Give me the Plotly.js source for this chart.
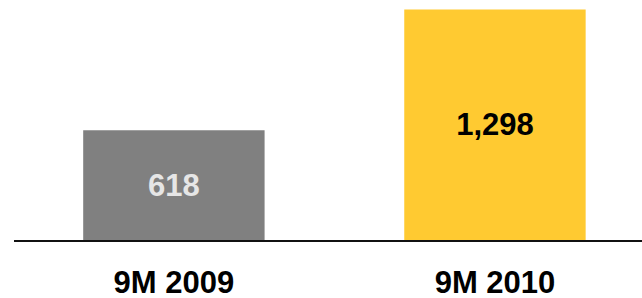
<!DOCTYPE html>
<html>
<head>
<meta charset="utf-8">
<script src="https://cdn.plot.ly/plotly-3.0.1.min.js"></script>
<style>html,body{margin:0;padding:0;background:#fff;}#chart{width:642px;height:298px;}</style>
</head>
<body>
<div id="chart"></div>
<script>
const categories = ['9M 2009', '9M 2010'];
const values = [618, 1298];
const barColors = ['#808080', '#FFCA31'];
const labelColors = ['#E6E6E6', '#000000'];

const trace = {
  type: 'bar',
  x: categories,
  y: values,
  width: 0.565,
  marker: {color: barColors, line: {width: 0}},
  texttemplate: '%{y:,}',
  textposition: 'inside',
  insidetextanchor: 'middle',
  textangle: 0,
  insidetextfont: {family: 'Liberation Sans, Arial, sans-serif', size: 31, color: labelColors, weight: 'bold'},
  hoverinfo: 'none',
  cliponaxis: false
};

const layout = {
  width: 642, height: 298,
  margin: {l: 14, r: 0, t: 0, b: 58, pad: 0},
  paper_bgcolor: '#fff', plot_bgcolor: '#fff',
  showlegend: false,
  xaxis: {
    type: 'category',
    range: [-0.498, 1.458],
    showline: true, linecolor: '#111', linewidth: 2,
    showgrid: false, zeroline: false,
    ticks: '', ticklabelstandoff: 14,
    tickfont: {family: 'Liberation Sans, Arial, sans-serif', size: 31, color: '#000', weight: 'bold'}
  },
  yaxis: {
    range: [0, 1352],
    visible: false,
    showgrid: false, zeroline: false
  }
};

Plotly.newPlot('chart', [trace], layout, {staticPlot: true, displayModeBar: false});
</script>
</body>
</html>
